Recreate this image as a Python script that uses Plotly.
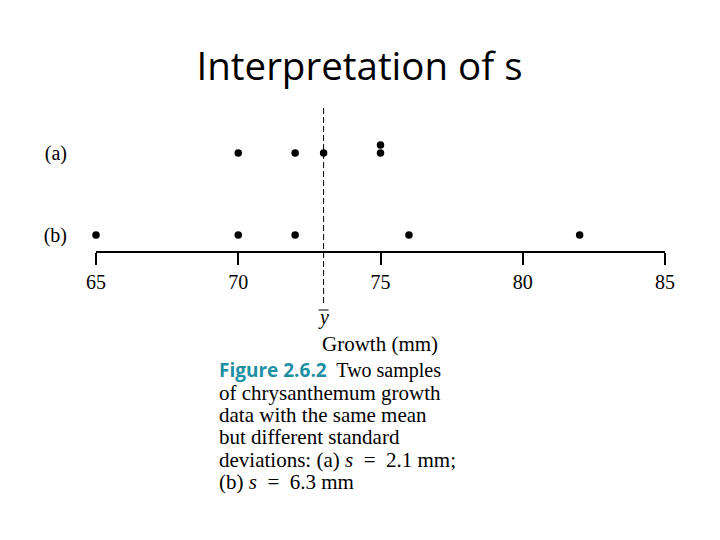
import plotly.graph_objects as go

# chrysanthemum growth (mm), two samples with the same mean
sample_labels = ["(a)", "(b)"]
sample_a = [70, 72, 73, 75, 75]
sample_b = [65, 70, 72, 76, 82]
x_ticks = [65, 70, 75, 80, 85]

title_text = "Interpretation of s"
axis_caption = "Growth (mm)"
caption_lines = [
    "<span style='font-family:Open Sans;font-weight:bold;font-size:19px;color:#1f8fa3'>Figure 2.6.2</span>  Two samples",
    "of chrysanthemum growth",
    "data with the same mean",
    "but different standard",
    "deviations: (a) <i>s</i>  =  2.1 mm;",
    "(b) <i>s</i>  =  6.3 mm",
]

SERIF = "Liberation Serif"
row_y = {"(a)": 2, "(b)": 1}
stack_step = 0.098


def stacked(values, base):
    xs, ys, seen = [], [], {}
    for v in values:
        k = seen.get(v, 0)
        seen[v] = k + 1
        xs.append(v)
        ys.append(base + k * stack_step)
    return xs, ys


def paper_y(py):
    # plot area spans screen rows 100..251
    return (251 - py) / 151


def paper_x(px):
    # plot area spans screen columns 96..665
    return (px - 96) / 569


fig = go.Figure()
for label, values in zip(sample_labels, [sample_a, sample_b]):
    xs, ys = stacked(values, row_y[label])
    fig.add_trace(go.Scatter(
        x=xs, y=ys, mode="markers",
        marker=dict(color="black", size=7.5),
        cliponaxis=False, showlegend=False,
    ))

mean = sum(sample_a) / len(sample_a)

fig.add_shape(type="line", xref="x", yref="paper", x0=mean, x1=mean,
              y0=paper_y(108), y1=paper_y(304),
              line=dict(color="black", width=1, dash="6px,3px"))
fig.add_shape(type="line", xref="x", yref="paper", xsizemode="pixel", xanchor=mean,
              x0=-5, x1=5, y0=paper_y(310), y1=paper_y(310),
              line=dict(color="black", width=1))

fig.add_annotation(x=mean, xref="x", y=paper_y(317), yref="paper", text="<i>y</i>",
                   showarrow=False, yanchor="middle",
                   font=dict(family=SERIF, size=20, color="black"))
fig.add_annotation(x=paper_x(320), xref="paper", y=paper_y(344), yref="paper",
                   text=axis_caption, showarrow=False, xanchor="left", yanchor="middle",
                   font=dict(family=SERIF, size=21, color="black"))

line_px = [370, 393, 415, 437, 460, 482]
for i, (text, py) in enumerate(zip(caption_lines, line_px)):
    fig.add_annotation(x=paper_x(217), xref="paper", y=paper_y(py), yref="paper",
                       text=text, showarrow=False, xanchor="left", yanchor="middle",
                       font=dict(family=SERIF, size=20 if i == 0 else 21, color="black"))

fig.update_layout(
    width=720,
    height=540,
    paper_bgcolor="white",
    plot_bgcolor="white",
    margin=dict(l=88, r=63, t=92, b=297),
    title=dict(text=title_text, x=351.5 / 720, xanchor="center", y=1 - 59 / 540,
               yanchor="middle", font=dict(family="Open Sans", size=38.5, color="black")),
    xaxis=dict(range=[x_ticks[0], x_ticks[-1]], tickvals=x_ticks, showgrid=False,
               zeroline=False, showline=True, linecolor="black", linewidth=1.5,
               ticks="outside", ticklen=12, tickwidth=1.5, tickcolor="black",
               tickfont=dict(family=SERIF, size=20, color="black")),
    yaxis=dict(range=[0.805, 2.646], tickvals=[row_y[s] for s in sample_labels],
               ticktext=sample_labels, showgrid=False, zeroline=False, showline=False,
               ticks="", ticklabelstandoff=28,
               tickfont=dict(family=SERIF, size=20, color="black")),
)

fig.write_html("out.html")
